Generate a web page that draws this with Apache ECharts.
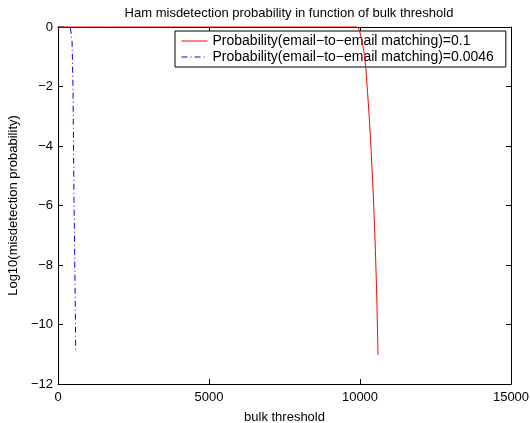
<!DOCTYPE html>
<html>
<head>
<meta charset="utf-8">
<script src="https://cdn.jsdelivr.net/npm/echarts@6/dist/echarts.min.js"></script>
<style>html,body{margin:0;padding:0;background:#fff}#c{width:530px;height:423px}</style>
</head>
<body>
<div id="c"></div>
<script>
var titleText = 'Ham misdetection probability in function of bulk threshold';
var xName = 'bulk threshold';
var yName = 'Log10(misdetection probability)';
var redName = 'Probability(email\u2212to\u2212email matching)=0.1';
var blueName = 'Probability(email\u2212to\u2212email matching)=0.0046';
var redX = [0, 5000, 9890, 9970, 10060, 10166, 10250, 10331, 10447, 10540, 10596];
var redY = [0, 0, 0, -0.1, -0.45, -1.11, -2.2, -3.46, -5.82, -8.5, -11.03];
var blueX = [0, 400, 420, 464, 497, 530, 573, 586];
var blueY = [0, 0, -0.1, -0.44, -2.0, -5.82, -9.4, -10.92];

function pairs(xs, ys){ return xs.map(function(x,i){ return [x, ys[i]]; }); }
var font = 'Liberation Sans, Arial, Helvetica, sans-serif';
var fmt = function(v){ return String(v).replace('-', '\u2212'); };

var chart = echarts.init(document.getElementById('c'), null, {renderer:'canvas'});
chart.setOption({
  animation: false,
  backgroundColor: '#fff',
  title: { text: titleText, left: 284, top: 2, textAlign: 'center',
    textStyle: { fontFamily: font, fontSize: 13, fontWeight: 'normal', color: '#000' } },
  grid: { left: 58, right: 19, top: 27, bottom: 39, containLabel: false, outerBoundsMode: 'none' },
  legend: {
    orient: 'vertical', left: 175, top: 31,
    backgroundColor: '#fff', borderColor: '#000', borderWidth: 1,
    padding: [3, 12, 3, 6], itemGap: 2, itemWidth: 26, itemHeight: 16,
    itemStyle: { opacity: 0 },
    lineStyle: { width: 1 },
    textStyle: { fontFamily: font, fontSize: 14, color: '#000' },
    data: [redName, blueName]
  },
  xAxis: [{
    type: 'value', min: 0, max: 15000, interval: 5000,
    name: xName, nameLocation: 'middle', nameGap: 27,
    nameTextStyle: { fontFamily: font, fontSize: 13, color: '#000' },
    axisLine: { onZero: false, lineStyle: { color: '#000', width: 1 } },
    axisTick: { inside: true, length: 5, lineStyle: { color: '#000' } },
    axisLabel: { fontFamily: font, fontSize: 13, color: '#000', margin: 7, formatter: fmt },
    splitLine: { show: false }
  }, {
    type: 'value', position: 'top', min: 0, max: 15000, interval: 5000,
    axisLine: { onZero: false, lineStyle: { color: '#000', width: 1 } },
    axisTick: { inside: true, length: 5, lineStyle: { color: '#000' } },
    axisLabel: { show: false }, splitLine: { show: false }
  }],
  yAxis: [{
    type: 'value', min: -12, max: 0, interval: 2,
    name: yName, nameLocation: 'middle', nameGap: 38, nameRotate: 90,
    nameTextStyle: { fontFamily: font, fontSize: 13, color: '#000' },
    axisLine: { onZero: false, lineStyle: { color: '#000', width: 1 } },
    axisTick: { inside: true, length: 5, lineStyle: { color: '#000' } },
    axisLabel: { fontFamily: font, fontSize: 13, color: '#000', margin: 5, formatter: fmt },
    splitLine: { show: false }
  }, {
    type: 'value', position: 'right', min: -12, max: 0, interval: 2,
    axisLine: { show: true, onZero: false, lineStyle: { color: '#000', width: 1 } },
    axisTick: { show: true, inside: true, length: 5, lineStyle: { color: '#000' } },
    axisLabel: { show: false }, splitLine: { show: false }
  }],
  series: [{
    name: blueName, type: 'line', data: pairs(blueX, blueY), z: 3, clip: false,
    showSymbol: false, symbol: 'none', smooth: false,
    lineStyle: { color: '#0000ff', width: 1, type: [6, 3, 1, 3] },
    itemStyle: { color: '#0000ff' }
  }, {
    name: redName, type: 'line', data: pairs(redX, redY), z: 4, clip: false,
    showSymbol: false, symbol: 'none', smooth: 0.3,
    lineStyle: { color: '#ff0000', width: 1 },
    itemStyle: { color: '#ff0000' }
  }]
});
</script>
</body>
</html>
